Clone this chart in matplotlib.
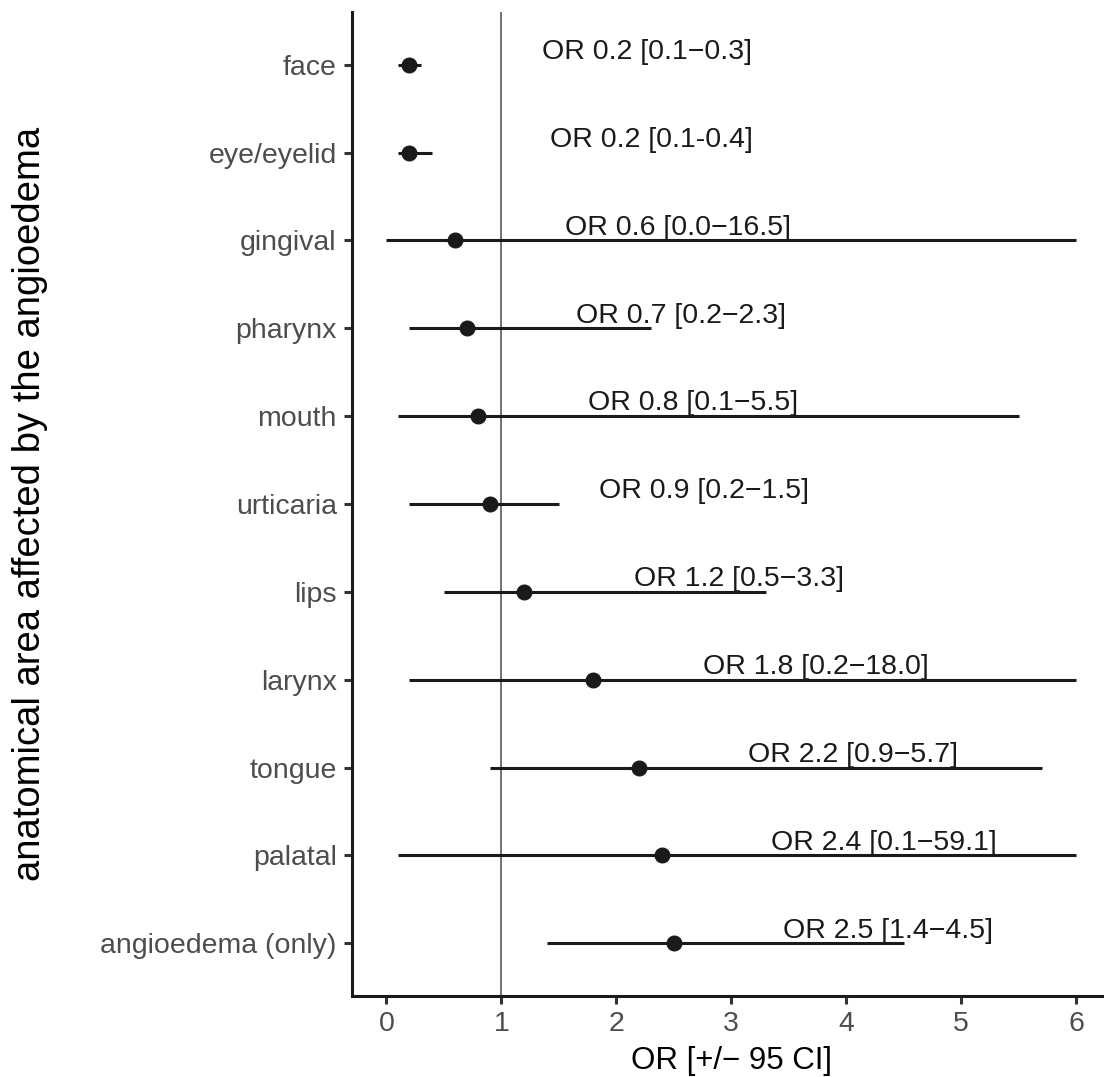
import matplotlib
matplotlib.use("Agg")
import matplotlib.pyplot as plt

plt.rcParams['font.family'] = ['Liberation Sans', 'DejaVu Sans']

areas = ["face", "eye/eyelid", "gingival", "pharynx", "mouth", "urticaria",
         "lips", "larynx", "tongue", "palatal", "angioedema (only)"]
odds = [0.2, 0.2, 0.6, 0.7, 0.8, 0.9, 1.2, 1.8, 2.2, 2.4, 2.5]
ci_low = [0.1, 0.1, 0.0, 0.2, 0.1, 0.2, 0.5, 0.2, 0.9, 0.1, 1.4]
ci_high = [0.3, 0.4, 16.5, 2.3, 5.5, 1.5, 3.3, 18.0, 5.7, 59.1, 4.5]
labels = ["OR 0.2 [0.1\u22120.3]", "OR 0.2 [0.1-0.4]", "OR 0.6 [0.0\u221216.5]",
          "OR 0.7 [0.2\u22122.3]", "OR 0.8 [0.1\u22125.5]", "OR 0.9 [0.2\u22121.5]",
          "OR 1.2 [0.5\u22123.3]", "OR 1.8 [0.2\u221218.0]", "OR 2.2 [0.9\u22125.7]",
          "OR 2.4 [0.1\u221259.1]", "OR 2.5 [1.4\u22124.5]"]
x_max = 6

W, H = 1104, 1077
fig = plt.figure(figsize=(W / 100, H / 100), dpi=100)
ax = fig.add_axes([352 / W, (H - 996) / H, (1110.5 - 352) / W, (996 - 12) / H])

dark = "#1a1a1a"
n = len(areas)
ypos = [n - i for i in range(n)]

ax.axvline(1, color="#4d4d4d", lw=1.1, zorder=1)
for i in range(n):
    hi = min(ci_high[i], x_max)
    ax.plot([ci_low[i], hi], [ypos[i], ypos[i]], color=dark, lw=2.2,
            solid_capstyle="butt", zorder=2)
    ax.plot(odds[i], ypos[i], "o", color=dark, ms=10.5, zorder=3)
    shift = 1.15 if i == 0 else (1.22 if i == 1 else 0.95)
    ax.text(odds[i] + shift, ypos[i] + 0.065, labels[i], ha="left", va="baseline",
            fontsize=20.5, color=dark)

ax.set_xlim(-0.3, 6.3)
ax.set_ylim(0.4, 11.6)
ax.set_xticks(range(0, 7))
ax.set_yticks(ypos)
ax.set_yticklabels(areas)

for side in ["top", "right"]:
    ax.spines[side].set_visible(False)
for side in ["left", "bottom"]:
    ax.spines[side].set_linewidth(2.2)
    ax.spines[side].set_color("#1a1a1a")
ax.tick_params(axis="both", length=5.5, width=2.2, color="#333333",
               labelcolor="#4d4d4d", labelsize=20.5, pad=5.5)

ax.set_xlabel("OR [+/\u2212 95 CI]", fontsize=22.5, color="black", labelpad=6)
ax.set_ylabel("anatomical area affected by the angioedema", fontsize=27.5,
              color="black", labelpad=38)

fig.savefig("out.png", dpi=100)
